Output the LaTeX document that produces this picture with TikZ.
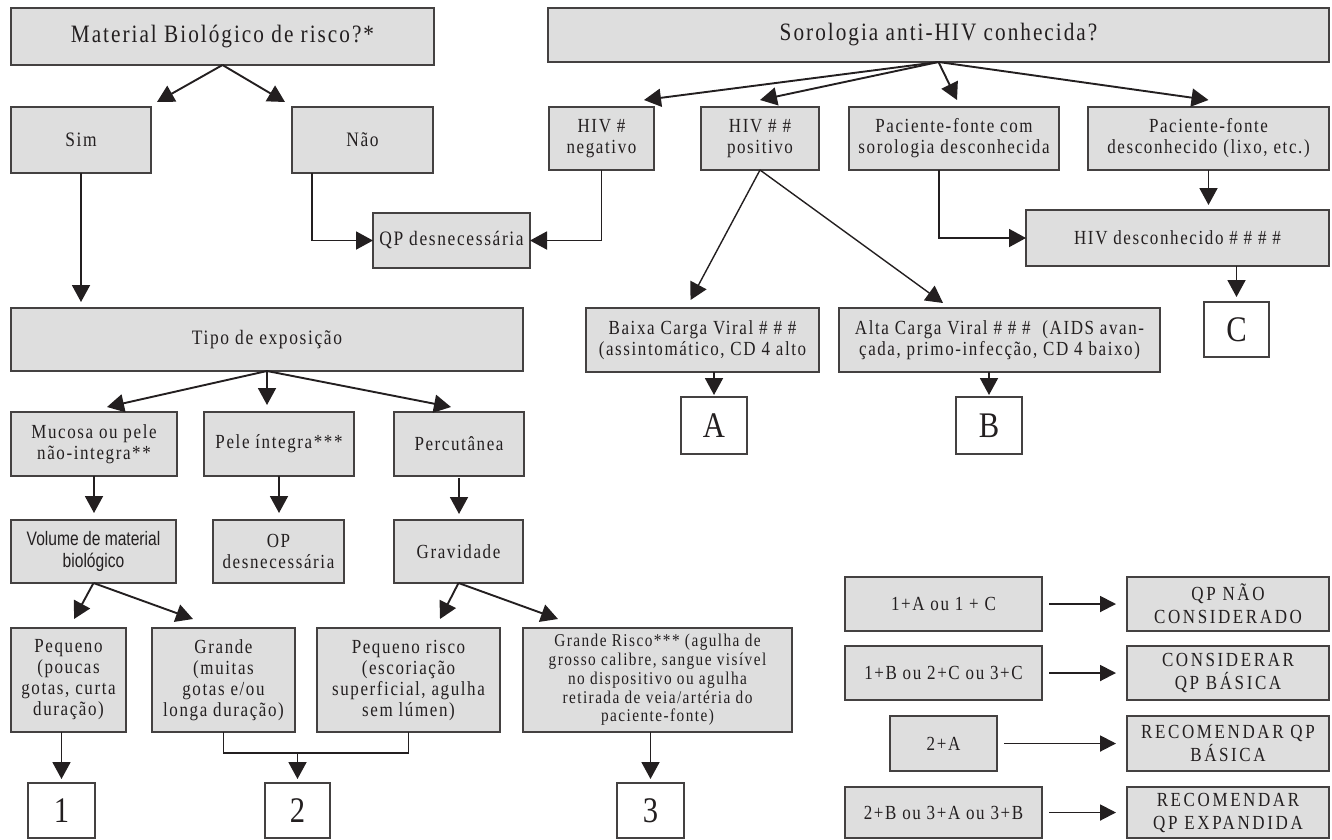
\documentclass[tikz,border=0pt]{standalone}
\usepackage{fontspec}
\setmainfont{Liberation Serif}
\newfontfamily\bodyf{Liberation Serif}[LetterSpace=8,FakeStretch=0.85]
\newfontfamily\capsf{Liberation Serif}[LetterSpace=13,FakeStretch=0.85]
\newfontfamily\numf{Liberation Serif}[FakeStretch=0.85]
\newfontfamily\narrowf{Liberation Sans}[FakeStretch=0.8]
\usetikzlibrary{arrows.meta,calc}
\definecolor{boxgray}{HTML}{DEDEDE}
\definecolor{ink}{HTML}{231F20}
\tikzset{
  box/.style={draw=ink!85, line width=1.2pt, fill=boxgray, inner sep=0pt, outer sep=0pt,
    align=center, text=ink, font=\bodyf\fontsize{20}{21}\selectfont},
  wbox/.style={box, fill=white, font=\numf\fontsize{36}{38}\selectfont},
  titlef/.style={font=\bodyf\fontsize{25}{28}\selectfont},
  midf/.style={font=\bodyf\fontsize{20.5}{22}\selectfont},
  legf/.style={font=\bodyf\fontsize{20}{23}\selectfont},
  legc/.style={font=\capsf\fontsize{20}{23}\selectfont},
  smallf/.style={font=\bodyf\fontsize{18}{18.7}\selectfont},
  arr/.style={draw=ink, line width=1.9pt, -{Triangle[length=17pt,width=18pt]}},
  larr/.style={draw=ink, line width=1.9pt, -{Triangle[length=16pt,width=16pt]}},
  tarr/.style={draw=ink, line width=1.4pt, -{Triangle[length=17pt,width=18pt]}},
  ln/.style={draw=ink, line width=1.9pt},
}
\newcommand\bx[7][]{\node[box,#1,minimum width={#5-#3},minimum height={#6-#4}] (#2) at ({(#3+#5)/2},{(#4+#6)/2}) {#7};}
\begin{document}
\begin{tikzpicture}[x=1pt,y=-1pt]
\useasboundingbox (0,0) rectangle (1332,839);
% left tree
\bx[titlef]{mat}{11}{8}{434}{65}{Material Biológico de risco?*}
\bx[midf]{sim}{11}{107}{151}{173}{Sim}
\bx[midf]{nao}{292}{107}{433}{173}{Não}
\bx[midf]{qpd}{373}{213}{530}{268}{QP desnecessária}
\bx[midf]{tipo}{11}{308}{523}{371}{Tipo de exposição}
\bx{muc}{11}{412}{177}{476}{Mucosa ou pele\\não-integra**}
\bx{pele}{204}{412}{354}{476}{Pele íntegra***}
\bx{perc}{394}{412}{524}{476}{Percutânea}
\bx[font=\narrowf\fontsize{19.5}{22}\selectfont]{vol}{11}{520}{176}{583}{Volume de material\\biológico}
\bx{op}{213}{520}{344}{583}{OP\\desnecessária}
\bx{grav}{394}{520}{523}{583}{Gravidade}
\bx{peq}{11}{628}{126}{732}{Pequeno\\(poucas\\gotas, curta\\duração)}
\bx{gra}{152}{628}{295}{732}{Grande\\(muitas\\gotas e/ou\\longa duração)}
\bx{peqr}{317}{628}{500}{732}{Pequeno risco\\(escoriação\\superficial, agulha\\sem lúmen)}
\bx[smallf]{grar}{523}{628}{792}{732}{Grande Risco*** (agulha de\\grosso calibre, sangue visível\\no dispositivo ou agulha\\retirada de veia/artéria do\\paciente-fonte)}
\bx[wbox]{one}{28}{783}{95}{838}{1}
\bx[wbox]{two}{265}{783}{330}{838}{2}
\bx[wbox]{three}{617}{783}{684}{838}{3}
% right tree
\bx[titlef]{sor}{548}{8}{1329}{62}{Sorologia anti-HIV conhecida?}
\bx{neg}{549}{107}{654}{170}{HIV \#\\negativo}
\bx{pos}{701}{107}{819}{170}{HIV \# \#\\positivo}
\bx{pfc}{849}{107}{1059}{170}{Paciente-fonte com\\sorologia desconhecida}
\bx{pfd}{1088}{107}{1329}{170}{Paciente-fonte\\desconhecido (lixo, etc.)}
\bx{hivd}{1026}{210}{1329}{266}{HIV desconhecido \# \# \# \#}
\bx{baixa}{586}{308}{819}{372}{Baixa Carga Viral \# \# \#\\(assintomático, CD 4 alto}
\bx{alta}{839}{308}{1160}{372}{Alta Carga Viral \# \# \#~ (AIDS avan-\\çada, primo-infecção, CD 4 baixo)}
\bx[wbox]{A}{681}{397}{747}{454}{A}
\bx[wbox]{B}{956}{397}{1022}{454}{B}
\bx[wbox]{C}{1204}{302}{1269}{357}{C}
% legend
\bx[legf]{l1}{845}{577}{1042}{631}{1+A ou 1 + C}
\bx[legc]{r1}{1127}{577}{1329}{631}{QP NÃO\\CONSIDERADO}
\bx[legf]{l2}{845}{646}{1042}{700}{1+B ou 2+C ou 3+C}
\bx[legc]{r2}{1127}{646}{1329}{700}{CONSIDERAR\\QP BÁSICA}
\bx[legf]{l3}{890}{716}{997}{771}{2+A}
\bx[legc]{r3}{1127}{716}{1329}{771}{RECOMENDAR QP\\BÁSICA}
\bx[legf]{l4}{845}{787}{1042}{838}{2+B ou 3+A ou 3+B}
\bx[legc]{r4}{1127}{787}{1329}{838}{RECOMENDAR\\QP EXPANDIDA}
% connectors left
\draw[arr] (mat.south) -- ($(sim.north east)+(6,-5)$);
\draw[arr] (mat.south) -- ($(nao.north west)+(-7,-5)$);
\draw[arr, shorten >=6pt] (sim.south) -- (sim.south |- tipo.north);
\draw[arr] ($(nao.south west)+(20,0)$) |- (qpd.west);
\draw[arr] (neg.south) |- (qpd.east);
\draw[arr] (tipo.south) -- ($(muc.north)+(13,-5)$);
\draw[arr, shorten >=7pt] (tipo.south) -- (tipo.south |- pele.north);
\draw[arr] (tipo.south) -- ($(perc.north)+(-8,-5)$);
\draw[arr, shorten >=7pt] (muc.south) -- (muc.south |- vol.north);
\draw[arr, shorten >=7pt] (pele.south) -- (pele.south |- op.north);
\draw[arr, shorten <=2pt, shorten >=6pt] (perc.south) -- (perc.south |- grav.north);
\draw[arr] (vol.south) -- ($(peq.north)+(5.5,-9)$);
\draw[arr] (vol.south) -- ($(gra.north west)+(41,-9)$);
\draw[arr] (grav.south) -- ($(peqr.north east)+(-60,-9)$);
\draw[arr] (grav.south) -- ($(grar.north west)+(35,-9)$);
\draw[arr, shorten >=4pt] (peq.south -| one.north) -- (one.north);
\draw[ln, line width=1.4pt] (gra.south) -- ++(0,21) coordinate (jn) -| (peqr.south);
\draw[arr, shorten >=4pt] (jn -| two.north) -- (two.north);
\draw[arr, shorten >=4pt] (grar.south -| three.north) -- (three.north);
% connectors right
\draw[arr] (sor.south) -- ($(neg.north east)+(-10,-7)$);
\draw[arr] (sor.south) -- ($(pos.north)+(0,-7)$);
\draw[arr] (sor.south) -- ($(pfc.north)+(3,-7)$);
\draw[arr] (sor.south) -- ($(pfd.north)+(0,-7)$);
\draw[tarr] (pos.south) -- ($(baixa.north)+(-12,-8)$);
\draw[tarr] (pos.south) -- ($(alta.north west)+(104,-5)$);
\draw[arr] ($(pfc.south)+(-15,0)$) |- (hivd.west);
\draw[arr, shorten >=5pt] (pfd.south) -- (pfd.south |- hivd.north);
\draw[arr, shorten >=5pt] (C.north |- hivd.south) -- (C.north);
\draw[arr, shorten >=2pt] (A.north |- baixa.south) -- (A.north);
\draw[arr, shorten >=2pt] (B.north |- alta.south) -- (B.north);
% legend arrows
\draw[larr, shorten <=7pt, shorten >=11pt] (l1) -- (r1);
\draw[larr, shorten <=7pt, shorten >=11pt] (l2) -- (r2);
\draw[larr, shorten <=7pt, shorten >=11pt] (l3) -- (r3);
\draw[larr, shorten <=7pt, shorten >=11pt] (l4) -- (r4);
\end{tikzpicture}
\end{document}
